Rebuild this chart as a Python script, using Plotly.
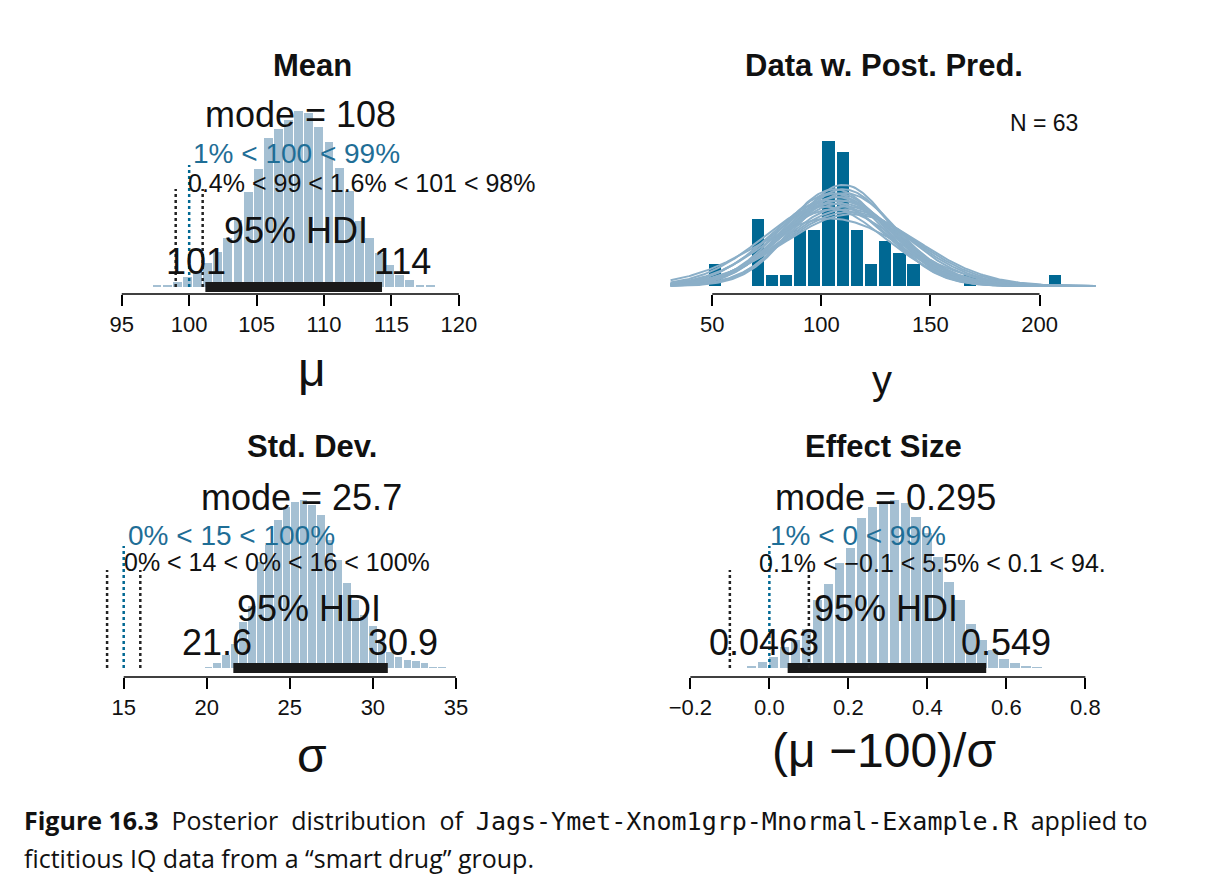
import numpy as np
import plotly.graph_objects as go

W, H = 1232, 886
FONT = "Liberation Sans, Arial, sans-serif"

# ---------------- data ----------------
mean_start, mean_step = 97.6, 0.75
mean_heights = [3, 3, 14, 29, 49, 72, 105, 147, 199, 282, 352, 445, 472, 499, 525,
                519, 477, 432, 355, 285, 197, 147, 102, 67, 35, 20, 7, 3]
mean_hdi = [101.2, 114.3]
mean_rope = [99, 100, 101]
mean_ticks = [95, 100, 105, 110, 115, 120]

data_edge0, data_binw = 48.2, 6.5
data_bins = [0, 3, 4, 5, 6, 7, 8, 9, 10, 11, 12, 13, 14, 18, 24]
data_counts = [2, 6, 1, 1, 5, 5, 13, 12, 5, 2, 4, 3, 2, 1, 1]
pred_mu = [104, 107, 109, 111, 106, 113, 108, 110, 103, 112, 105, 109, 114, 107, 101, 110, 108, 106, 111, 104]
pred_sd = [27, 24, 26, 28, 23, 30, 25, 22, 26, 29, 24, 27, 31, 25, 28, 23, 26, 29, 24, 33]
pred_scale = 500
data_ticks = [50, 100, 150, 200]

sd_start, sd_step = 20.1, 0.52
sd_heights = [3, 15, 38, 73, 138, 185, 318, 368, 443, 483, 498, 503, 488, 458, 383, 323,
              255, 203, 158, 125, 83, 48, 33, 23, 21, 15, 3, 3]
sd_hdi = [21.6, 30.9]
sd_rope = [14, 15, 16]
sd_ticks = [15, 20, 25, 30, 35]

es_start, es_step = -0.044, 0.0278
es_heights = [5, 18, 33, 63, 83, 118, 203, 251, 313, 358, 448, 481, 498, 503, 493, 453,
              403, 333, 258, 203, 133, 83, 53, 28, 15, 6, 3]
es_hdi = [0.0463, 0.549]
es_rope = [-0.1, 0.0, 0.1]
es_ticks = [-0.2, 0.0, 0.2, 0.4, 0.6, 0.8]
es_ticktext = ["\u22120.2", "0.0", "0.2", "0.4", "0.6", "0.8"]

# ---------------- layout helpers ----------------
OFF = 8  # page body margin compensation

def px(x):
    return (x - OFF) / W

def py(y):
    return 1 - (y - OFF) / H

LIGHT = "#A5C0D3"
DARK = "#006893"
CURVE = "#8BAFC8"
BLUE_T = "#1F6E96"

fig = go.Figure()
annotations = []
shapes = []

panels = {
    "mean": ("x", "y", (100, 480), (90, 294), [93.37, 121.48], 287, 111),
    "data": ("x2", "y2", (670, 1100), (90, 294), [29.88, 226.5], 286, 141),
    "sd": ("x3", "y3", (100, 480), (470, 677), [13.56, 36.38], 668, 500),
    "es": ("x4", "y4", (670, 1100), (470, 677), [-0.2556, 0.8303], 668, 500),
}

def yrange(maxval, base, peak, top, bottom):
    s = maxval / (base - peak)
    return [-(bottom - base) * s, maxval + (peak - top) * s]

def post_panel(name, start, step, heights, hdi, rope):
    xa, ya, xd, yd, xr, base, peak = panels[name]
    xs = [start + i * step for i in range(len(heights))]
    fig.add_trace(go.Bar(x=xs, y=heights, width=step * 0.88, marker=dict(color=LIGHT, line=dict(width=0)),
                         xaxis=xa, yaxis=ya, showlegend=False))
    yr = yrange(max(heights), base, peak, yd[0], yd[1])
    fig.add_trace(go.Scatter(x=hdi, y=[0, 0], mode="lines", line=dict(color="#1a1a1a", width=10),
                             xaxis=xa, yaxis=ya, showlegend=False))
    for v, col, top in [(rope[0], "#222222", base - 98), (rope[2], "#222222", base - 98), (rope[1], DARK, base - 122)]:
        shapes.append(dict(type="line", xref=xa, yref="paper", x0=v, x1=v, y0=py(base), y1=py(top),
                           line=dict(color=col, width=2.5, dash="dot")))
    return yr

def axis_line(xa, ticks):
    shapes.append(dict(type="line", xref=xa, yref=xa.replace("x", "y") + " domain", x0=ticks[0], x1=ticks[-1],
                       y0=0, y1=0, line=dict(color="black", width=1.5)))

yr1 = post_panel("mean", mean_start, mean_step, mean_heights, mean_hdi, mean_rope)
yr3 = post_panel("sd", sd_start, sd_step, sd_heights, sd_hdi, sd_rope)
yr4 = post_panel("es", es_start, es_step, es_heights, es_hdi, es_rope)

xa, ya, xd, yd, xr, base, peak = panels["data"]
dx = [data_edge0 + (k + 0.5) * data_binw for k in data_bins]
fig.add_trace(go.Bar(x=dx, y=data_counts, width=data_binw * 0.86, marker=dict(color=DARK, line=dict(width=0)),
                     xaxis=xa, yaxis=ya, showlegend=False))
xx = np.linspace(xr[0] + 1, xr[1] - 1, 300)
for m, s in zip(pred_mu, pred_sd):
    yy = pred_scale * np.exp(-0.5 * ((xx - m) / s) ** 2) / (s * np.sqrt(2 * np.pi))
    fig.add_trace(go.Scatter(x=xx, y=yy, mode="lines", line=dict(color=CURVE, width=2),
                             xaxis=xa, yaxis=ya, showlegend=False, hoverinfo="skip"))
yr2 = yrange(max(data_counts), base, peak, yd[0], yd[1])

axcommon = dict(showgrid=False, zeroline=False, showline=False, ticks="outside", ticklen=11,
                tickcolor="black", tickwidth=1.5, tickfont=dict(size=22, family=FONT, color="#111"))
lay = {}
for i, (name, yr, ticks, tt) in enumerate([("mean", yr1, mean_ticks, None), ("data", yr2, data_ticks, None),
                                           ("sd", yr3, sd_ticks, None), ("es", yr4, es_ticks, es_ticktext)], 1):
    xa, ya, xd, yd, xr, base, peak = panels[name]
    sfx = "" if i == 1 else str(i)
    xax = dict(axcommon, domain=[px(xd[0]), px(xd[1])], range=xr, tickvals=ticks, anchor="y" + sfx)
    if tt:
        xax["ticktext"] = tt
    lay["xaxis" + sfx] = xax
    lay["yaxis" + sfx] = dict(domain=[py(yd[1]), py(yd[0])], range=yr, visible=False, anchor="x" + sfx)
    axis_line("x" + sfx, ticks)

def ann(text, x, y, size, color="#111", xanchor="center", bold=False, family=FONT):
    if bold:
        text = "<b>" + text + "</b>"
    annotations.append(dict(text=text, x=px(x), y=py(y), xref="paper", yref="paper", showarrow=False,
                            xanchor=xanchor, yanchor="middle", font=dict(size=size, color=color, family=family)))

BIG = 36
ann("Mean", 313, 65, 31, bold=True)
ann("Data w. Post. Pred.", 886, 65, 31, bold=True)
ann("Std. Dev.", 313, 446, 31, bold=True)
ann("Effect Size", 886, 446, 31, bold=True)
ann("\u03bc", 313, 370, 48)
ann("y", 884, 380, 40)
ann("\u03c3", 313, 755, 48)
ann("(\u03bc \u2212100)/\u03c3", 886, 750, 48)
ann("mode = 108", 301, 115, BIG)
ann("1% < 100 < 99%", 297, 153, 28, color=BLUE_T)
ann("0.4% < 99 < 1.6% < 101 < 98%", 186, 183, 25, xanchor="left")
ann("95% HDI", 297, 230, BIG)
ann("101", 196, 262, BIG)
ann("114", 403, 262, BIG)
ann("N = 63", 1047, 123, 23)
ann("mode = 25.7", 302, 497, BIG)
ann("0% < 15 < 100%", 232, 535, 28, color=BLUE_T)
ann("0% < 14 < 0% < 16 < 100%", 122, 562, 25, xanchor="left")
ann("95% HDI", 310, 608, BIG)
ann("21.6", 218, 642, BIG)
ann("30.9", 404, 642, BIG)
ann("mode = 0.295", 888, 497, BIG)
ann("1% < 0 < 99%", 860, 535, 28, color=BLUE_T)
ann("0.1% < \u22120.1 < 5.5% < 0.1 < 94.", 759, 563, 25, xanchor="left")
ann("95% HDI", 888, 608, BIG)
ann("0.0463", 766, 642, BIG)
ann("0.549", 1008, 642, BIG)

CAP = "Open Sans, Noto Sans, sans-serif"
NB = "\u00a0"
annotations.append(dict(
    text=("<b>Figure" + NB + "16.3</b>" + NB * 2 + "Posterior" + NB * 2 + "distribution" + NB * 2 + "of" + NB * 2 +
          "<span style='font-family:DejaVu Sans Mono'>Jags-Ymet-Xnom1grp-Mnormal-Example.R</span>" + NB * 2 + "applied" + NB + "to"),
    x=px(22), y=py(820), xref="paper", yref="paper", showarrow=False, xanchor="left", yanchor="middle",
    font=dict(size=25, family=CAP, color="#111")))
annotations.append(dict(
    text="fictitious IQ data from a \u201csmart drug\u201d group.",
    x=px(22), y=py(858), xref="paper", yref="paper", showarrow=False, xanchor="left", yanchor="middle",
    font=dict(size=25, family=CAP, color="#111")))

fig.update_layout(width=W, height=H, margin=dict(l=0, r=0, t=0, b=0), plot_bgcolor="white",
                  paper_bgcolor="white", bargap=0, annotations=annotations, shapes=shapes,
                  font=dict(family=FONT), **lay)
fig.write_html("out.html")
